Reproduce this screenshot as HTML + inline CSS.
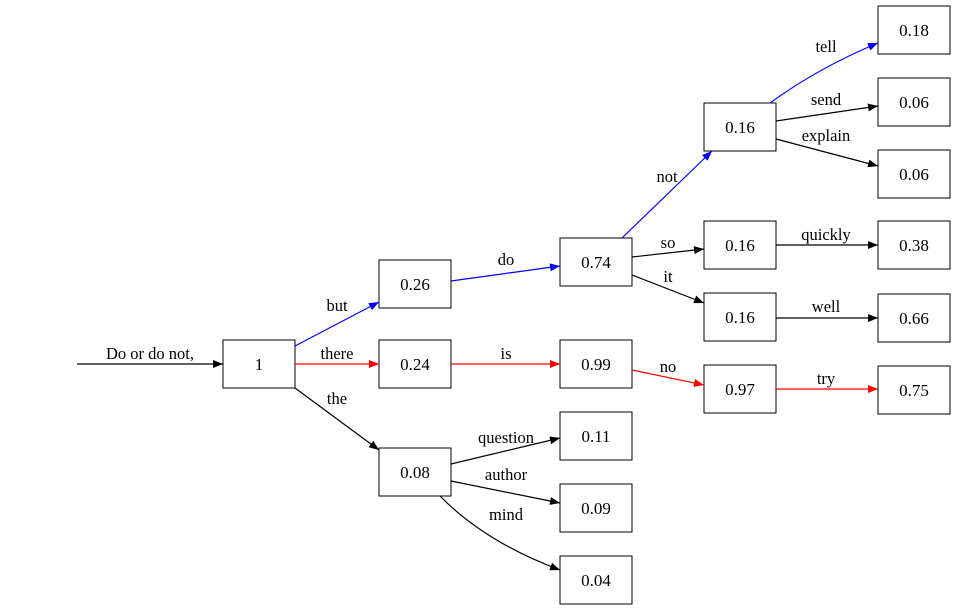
<!DOCTYPE html>
<html><head><meta charset="utf-8"><style>
html,body{margin:0;padding:0;background:#fff;}
svg{display:block;}
text{font-family:"Liberation Serif",serif;font-size:16.5px;text-anchor:middle;}
.n{font-size:17px;}
</style></head><body>
<svg width="955" height="609" viewBox="0 0 955 609" xmlns="http://www.w3.org/2000/svg">
<defs>
<marker id="k" viewBox="0 0 10 8" refX="10" refY="4" markerWidth="10" markerHeight="8" markerUnits="userSpaceOnUse" orient="auto"><path d="M0,0L10,4L0,8z" fill="#000"/></marker>
<marker id="b" viewBox="0 0 10 8" refX="10" refY="4" markerWidth="10" markerHeight="8" markerUnits="userSpaceOnUse" orient="auto"><path d="M0,0L10,4L0,8z" fill="#00f"/></marker>
<marker id="r" viewBox="0 0 10 8" refX="10" refY="4" markerWidth="10" markerHeight="8" markerUnits="userSpaceOnUse" orient="auto"><path d="M0,0L10,4L0,8z" fill="#f00"/></marker>
</defs>
<g fill="#fff" stroke="#000" stroke-width="1">
<rect x="223" y="340" width="72" height="48"/>
<rect x="379" y="260" width="72" height="48"/>
<rect x="379" y="340" width="72" height="48"/>
<rect x="379" y="448" width="72" height="48"/>
<rect x="560" y="238" width="72" height="48"/>
<rect x="560" y="340" width="72" height="48"/>
<rect x="560" y="412" width="72" height="48"/>
<rect x="560" y="484" width="72" height="48"/>
<rect x="560" y="556" width="72" height="48"/>
<rect x="704" y="103" width="72" height="48"/>
<rect x="704" y="221" width="72" height="48"/>
<rect x="704" y="293" width="72" height="48"/>
<rect x="704" y="365" width="72" height="48"/>
<rect x="878" y="6" width="72" height="48"/>
<rect x="878" y="78" width="72" height="48"/>
<rect x="878" y="150" width="72" height="48"/>
<rect x="878" y="221" width="72" height="48"/>
<rect x="878" y="294" width="72" height="48"/>
<rect x="878" y="366" width="72" height="48"/>
</g>
<g>
<text class="n" x="259" y="370">1</text>
<text class="n" x="415" y="290">0.26</text>
<text class="n" x="415" y="370">0.24</text>
<text class="n" x="415" y="478">0.08</text>
<text class="n" x="596" y="268">0.74</text>
<text class="n" x="596" y="370">0.99</text>
<text class="n" x="596" y="442">0.11</text>
<text class="n" x="596" y="514">0.09</text>
<text class="n" x="596" y="586">0.04</text>
<text class="n" x="740" y="133">0.16</text>
<text class="n" x="740" y="251">0.16</text>
<text class="n" x="740" y="323">0.16</text>
<text class="n" x="740" y="395">0.97</text>
<text class="n" x="914" y="36">0.18</text>
<text class="n" x="914" y="108">0.06</text>
<text class="n" x="914" y="180">0.06</text>
<text class="n" x="914" y="251">0.38</text>
<text class="n" x="914" y="324">0.66</text>
<text class="n" x="914" y="396">0.75</text>
</g>
<g fill="none" stroke-width="1.2">
<path d="M77,364L223,364" stroke="#000" marker-end="url(#k)"/>
<path d="M295,346L379,302" stroke="#00f" marker-end="url(#b)"/>
<path d="M295,364L379,364" stroke="#f00" marker-end="url(#r)"/>
<path d="M295,388L379,450" stroke="#000" marker-end="url(#k)"/>
<path d="M451,281L560,266" stroke="#00f" marker-end="url(#b)"/>
<path d="M451,364L560,364" stroke="#f00" marker-end="url(#r)"/>
<path d="M451,464L560,438" stroke="#000" marker-end="url(#k)"/>
<path d="M451,481L560,503" stroke="#000" marker-end="url(#k)"/>
<path d="M440,496Q485,542 560,570" stroke="#000" marker-end="url(#k)"/>
<path d="M622,238L712,151" stroke="#00f" marker-end="url(#b)"/>
<path d="M632,257L704,249" stroke="#000" marker-end="url(#k)"/>
<path d="M632,275L704,303" stroke="#000" marker-end="url(#k)"/>
<path d="M632,370L704,385" stroke="#f00" marker-end="url(#r)"/>
<path d="M776,389L878,389" stroke="#f00" marker-end="url(#r)"/>
<path d="M770,103Q818,68 878,43" stroke="#00f" marker-end="url(#b)"/>
<path d="M776,121L878,106" stroke="#000" marker-end="url(#k)"/>
<path d="M776,139L878,166" stroke="#000" marker-end="url(#k)"/>
<path d="M776,245L878,245" stroke="#000" marker-end="url(#k)"/>
<path d="M776,318L878,318" stroke="#000" marker-end="url(#k)"/>
</g>
<text x="150" y="359">Do or do not,</text>
<text x="337" y="311">but</text>
<text x="337" y="359">there</text>
<text x="337" y="404">the</text>
<text x="506" y="265">do</text>
<text x="506" y="359">is</text>
<text x="506" y="443">question</text>
<text x="506" y="480">author</text>
<text x="506" y="520">mind</text>
<text x="667" y="182">not</text>
<text x="668" y="248">so</text>
<text x="668" y="282">it</text>
<text x="668" y="372">no</text>
<text x="826" y="384">try</text>
<text x="826" y="52">tell</text>
<text x="826" y="105">send</text>
<text x="826" y="141">explain</text>
<text x="826" y="240">quickly</text>
<text x="826" y="312">well</text>
</svg>
</body></html>
